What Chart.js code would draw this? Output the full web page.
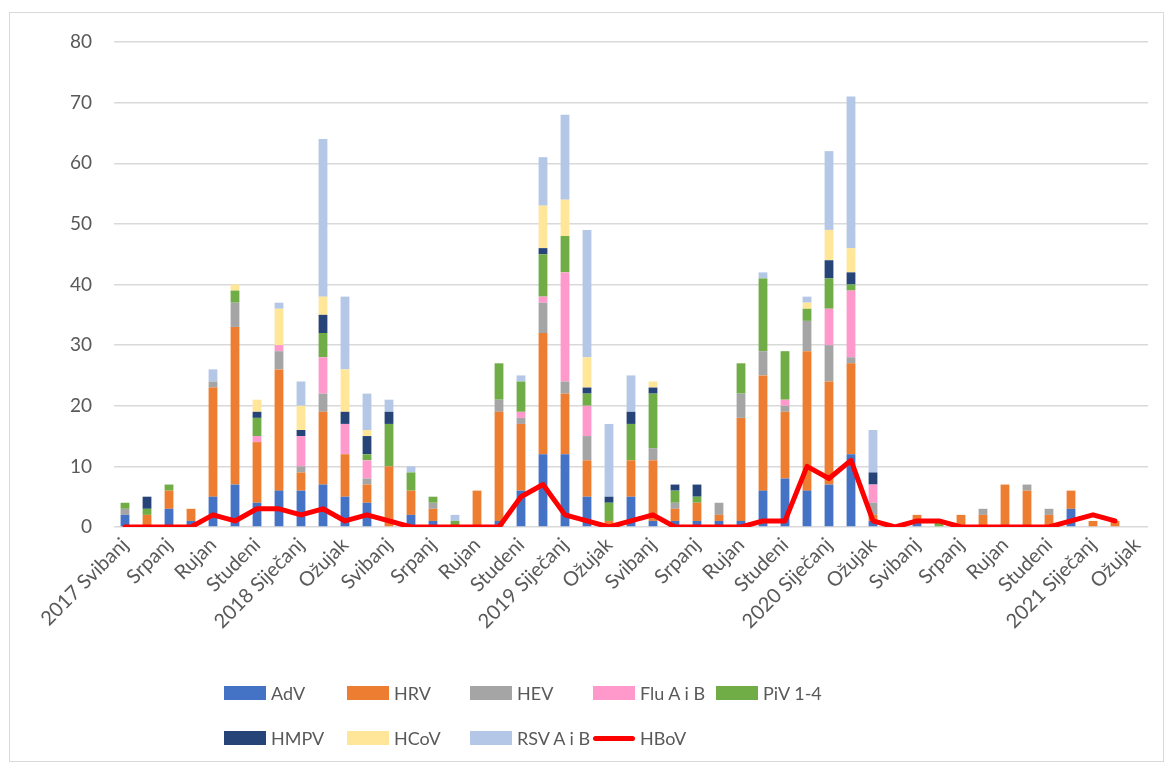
<!DOCTYPE html>
<html>
<head>
<meta charset="utf-8">
<script src="https://cdn.jsdelivr.net/npm/chart.js@4.4.1/dist/chart.umd.min.js"></script>
<style>
  body { margin: 0; background: #fff; font-family: Lato, "Noto Sans", sans-serif; }
  #wrap { position: relative; width: 1173px; height: 767px; }
  #frame { position: absolute; left: 9px; top: 12px; width: 1155px; height: 750px; border: 1px solid #d9d9d9; box-sizing: border-box; }
  #box { position: absolute; left: 0; top: 0; width: 1173px; height: 640px; }
  #legend { position: absolute; left: 0; top: 0; width: 1173px; height: 767px; pointer-events: none; }
  .item { position: absolute; display: flex; align-items: center; font-size: 18px; color: #595959; white-space: nowrap; }
  .swatch { width: 42px; height: 14px; margin-right: 5px; }
  .lineSwatch { width: 42px; height: 5px; border-radius: 3px; margin-right: 5px; }
</style>
</head>
<body>
<div id="wrap">
  <div id="frame"></div>
  <div id="box"><canvas id="myChart"></canvas></div>
  <div id="legend"></div>
</div>
<script>
// months, May 2017 - March 2021
const months = ["2017 Svibanj","Lipanj","Srpanj","Kolovoz","Rujan","Listopad","Studeni","Prosinac",
  "2018 Siječanj","Veljača","Ožujak","Travanj","Svibanj","Lipanj","Srpanj","Kolovoz","Rujan","Listopad","Studeni","Prosinac",
  "2019 Siječanj","Veljača","Ožujak","Travanj","Svibanj","Lipanj","Srpanj","Kolovoz","Rujan","Listopad","Studeni","Prosinac",
  "2020 Siječanj","Veljača","Ožujak","Travanj","Svibanj","Lipanj","Srpanj","Kolovoz","Rujan","Listopad","Studeni","Prosinac",
  "2021 Siječanj","Veljača","Ožujak"];

const adv  = [2,0,3,1,5,7,4,6,6,7,5,4,0,2,1,0,0,1,6,12,12,5,0,5,1,1,1,1,1,6,8,6,7,12,1,0,1,0,0,0,0,0,0,3,0,0,0];
const hrv  = [0,2,3,2,18,26,10,20,3,12,7,3,10,4,2,0,6,18,11,20,10,6,1,6,10,2,3,1,17,19,11,23,17,15,1,0,1,0,2,2,7,6,2,3,1,1,0];
const hev  = [1,0,0,0,1,4,0,3,1,3,0,1,0,0,1,0,0,2,1,5,2,4,0,0,2,1,0,2,4,4,1,5,6,1,2,0,0,0,0,1,0,1,1,0,0,0,0];
const flu  = [0,0,0,0,0,0,1,1,5,6,5,3,0,0,0,0,0,0,1,1,18,5,0,0,0,0,0,0,0,0,1,0,6,11,3,0,0,0,0,0,0,0,0,0,0,0,0];
const piv  = [1,1,1,0,0,2,3,0,0,4,0,1,7,3,1,1,0,6,5,7,6,2,3,6,9,2,1,0,5,12,8,2,5,1,0,0,0,1,0,0,0,0,0,0,0,0,0];
const hmpv = [0,2,0,0,0,0,1,0,1,3,2,3,2,0,0,0,0,0,0,1,0,1,1,2,1,1,2,0,0,0,0,0,3,2,2,0,0,0,0,0,0,0,0,0,0,0,0];
const hcov = [0,0,0,0,0,1,2,6,4,3,7,1,0,0,0,0,0,0,0,7,6,5,0,0,1,0,0,0,0,0,0,1,5,4,0,0,0,0,0,0,0,0,0,0,0,0,0];
const rsv  = [0,0,0,0,2,0,0,1,4,26,12,6,2,1,0,1,0,0,1,8,14,21,12,6,0,0,0,0,0,1,0,1,13,25,7,0,0,0,0,0,0,0,0,0,0,0,0];
const hbov = [0,0,0,0,2,1,3,3,2,3,1,2,1,0,0,0,0,0,5,7,2,1,0,1,2,0,0,0,0,1,1,10,8,11,1,0,1,1,0,0,0,0,0,1,2,1,null];

const barNames  = ["AdV","HRV","HEV","Flu A i B","PiV 1-4","HMPV","HCoV","RSV A i B"];
const barColors = ["#4472C4","#ED7D31","#A5A5A5","#FF99CC","#70AD47","#264478","#FFE699","#B4C7E7"];
const barData   = [adv, hrv, hev, flu, piv, hmpv, hcov, rsv];
const lineName  = "HBoV";
const lineColor = "#FF0000";

const yMax = 80;
const yStep = 10;

var datasets = [];
datasets.push({
  type: 'line',
  label: lineName,
  data: hbov,
  borderColor: lineColor,
  backgroundColor: lineColor,
  borderWidth: 5,
  pointRadius: 0,
  tension: 0,
  borderJoinStyle: 'round',
  borderCapStyle: 'round',
  stack: 'line',
  order: 0
});
for(let i=0; i<barNames.length; i++){
  datasets.push({
    type: 'bar',
    label: barNames[i],
    data: barData[i],
    backgroundColor: barColors[i],
    borderWidth: 0,
    barPercentage: 0.4,
    categoryPercentage: 1,
    stack: 'bars',
    order: 1
  });
}

var ctx = document.getElementById("myChart").getContext("2d");
window.myChart = new Chart(ctx, {
  data: { labels: months, datasets: datasets },
  options: {
    responsive: true,
    maintainAspectRatio: false,
    animation: false,
    layout: { padding: { left: 0, right: 25, top: 42, bottom: 0 } },
    plugins: { legend: { display: false }, tooltip: { enabled: false } },
    scales: {
      x: {
        stacked: true,
        grid: { display: false, drawTicks: false },
        border: { display: false },
        ticks: {
          autoSkip: false,
          minRotation: 45,
          maxRotation: 45,
          padding: 6,
          color: '#595959',
          font: { family: 'Lato', size: 20 },
          callback: function(val, idx){ return idx % 2 === 0 ? months[idx] : ''; }
        },
        afterFit: function(scale){ scale.height = 113; }
      },
      y: {
        stacked: true,
        min: 0,
        max: yMax,
        grid: { color: '#d9d9d9', lineWidth: 1.5, drawTicks: false },
        border: { display: false },
        ticks: { stepSize: yStep, padding: 22, color: '#595959', font: { family: 'Lato', size: 19 } },
        afterFit: function(scale){ scale.width = 114; }
      }
    }
  }
});

// legend laid out in columns like the original
const legend = document.getElementById("legend");
const colX = [224, 347, 470, 593, 716];
const rowY = [693, 738];
const legendItems = barNames.map((n, i) => ({ name: n, color: barColors[i], line: false }));
legendItems.push({ name: lineName, color: lineColor, line: true });
for(let i=0; i<legendItems.length; i++){
  const it = document.createElement("div");
  it.className = "item";
  it.style.left = colX[i % 5] + "px";
  it.style.top = (rowY[Math.floor(i / 5)] - 12) + "px";
  it.style.height = "24px";
  const sw = document.createElement("div");
  sw.className = legendItems[i].line ? "lineSwatch" : "swatch";
  sw.style.background = legendItems[i].color;
  const tx = document.createElement("span");
  tx.textContent = legendItems[i].name;
  it.appendChild(sw);
  it.appendChild(tx);
  legend.appendChild(it);
}
</script>
</body>
</html>
